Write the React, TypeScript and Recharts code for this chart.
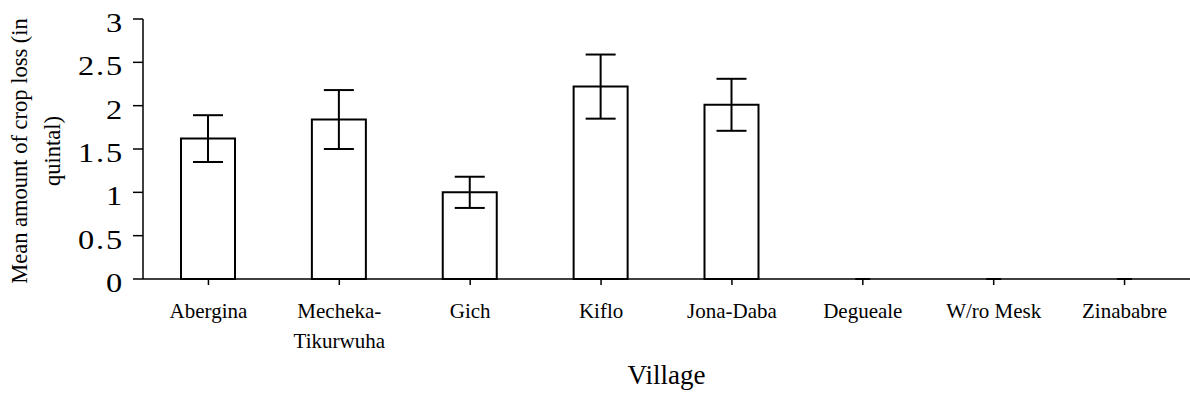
import React from 'react'
import { ComposedChart, Bar, Scatter, XAxis, YAxis, ErrorBar } from 'recharts'

const villages = ['Abergina', 'Mecheka-Tikurwuha', 'Gich', 'Kiflo', 'Jona-Daba', 'Degueale', 'W/ro Mesk', 'Zinababre']
const tickLabels = ['Abergina', 'Mecheka-\nTikurwuha', 'Gich', 'Kiflo', 'Jona-Daba', 'Degueale', 'W/ro Mesk', 'Zinababre']
const meanLoss = [1.62, 1.84, 1.0, 2.22, 2.01, 0, 0, 0]
const stdErr = [0.27, 0.34, 0.18, 0.37, 0.3, 0, 0, 0]
const yTicks = [0, 0.5, 1, 1.5, 2, 2.5, 3]

const FONT = '"Liberation Serif", "Times New Roman", serif'

const data = villages.map((v, i) => ({
  village: v,
  label: tickLabels[i],
  loss: meanLoss[i],
  err: stdErr[i],
  // villages with no loss still show the flat error cap on the axis
  flatCap: stdErr[i] === 0 ? meanLoss[i] : null,
}))

const VillageTick = (props: any) => {
  const { x, y, payload } = props
  const row = data.find(d => d.village === payload.value)
  const lines = (row ? row.label : payload.value).split('\n')
  return (
    <text x={x} y={y} textAnchor="middle" fontFamily={FONT} fontSize={21} fill="#000">
      {lines.map((l: string, i: number) => (
        <tspan key={i} x={x} dy={i === 0 ? 31 : 30}>{l}</tspan>
      ))}
    </text>
  )
}

const LossTick = (props: any) => {
  const { x, y, payload } = props
  return (
    <g transform={`translate(${x - 7},${y + 13}) scale(1.2,1)`}>
      <text x={0} y={0} textAnchor="end" fontFamily={FONT} fontSize={27} letterSpacing={1.5} fill="#000">
        {payload.value}
      </text>
    </g>
  )
}

const YTitle = () => (
  <text transform="translate(0,151) rotate(-90)" textAnchor="middle" fontFamily={FONT} fontSize={22.5} fill="#000">
    <tspan x={0} y={27}>Mean amount of crop loss (in</tspan>
    <tspan x={0} y={60}>quintal)</tspan>
  </text>
)

const FlatCap = (props: any) => {
  const { cx, cy } = props
  if (cy == null) return null
  return <line x1={cx - 7.5} x2={cx + 7.5} y1={cy} y2={cy} stroke="#000" strokeWidth={2} />
}

const App: React.FC = () => {
  return (
    <div style={{ position: 'absolute', left: 0, top: 0, background: '#fff' }}>
      <ComposedChart
        width={1190}
        height={408}
        data={data}
        margin={{ top: 19, right: 0, bottom: 0, left: 0 }}
        style={{ fontFamily: FONT }}
      >
        <XAxis
          dataKey="village"
          axisLine={{ stroke: '#000', strokeWidth: 1.5 }}
          tickLine={{ stroke: '#000', strokeWidth: 1.5 }}
          tickSize={6}
          tick={<VillageTick />}
          interval={0}
          height={129}
          label={{ value: 'Village', position: 'insideBottom', offset: 24, fontFamily: FONT, fontSize: 27, fill: '#000' }}
        />
        <YAxis
          domain={[0, 3]}
          ticks={yTicks}
          width={143}
          axisLine={{ stroke: '#000', strokeWidth: 1.5 }}
          tickLine={{ stroke: '#000', strokeWidth: 1.5 }}
          tickSize={10}
          tick={<LossTick />}
          label={{ content: () => <YTitle /> }}
        />
        <Bar dataKey="loss" fill="#fff" stroke="#000" strokeWidth={2} barSize={54} isAnimationActive={false}>
          <ErrorBar dataKey="err" width={15} stroke="#000" strokeWidth={2} direction="y" isAnimationActive={false} />
        </Bar>
        <Scatter dataKey="flatCap" shape={<FlatCap />} isAnimationActive={false} />
      </ComposedChart>
    </div>
  )
}

export default App
